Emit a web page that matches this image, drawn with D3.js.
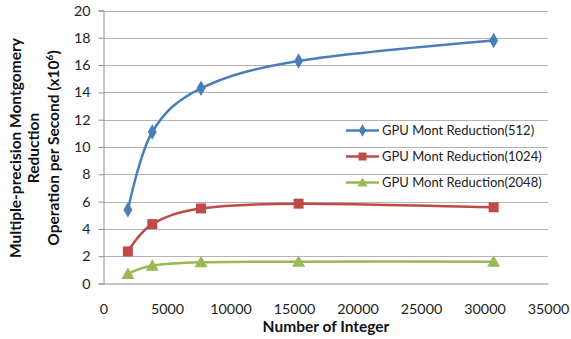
<!DOCTYPE html>
<html><head><meta charset="utf-8">
<script src="https://cdn.jsdelivr.net/npm/d3@7"></script>
<style>body{margin:0;background:#fff}svg{display:block}</style>
</head><body>
<script>
const xValues = [1920, 3840, 7680, 15360, 30720];
const series512 = [5.4, 11.1, 14.3, 16.3, 17.8];
const series1024 = [2.35, 4.35, 5.5, 5.85, 5.58];
const series2048 = [0.7, 1.3, 1.55, 1.6, 1.6];
const seriesNames = ["GPU Mont Reduction(512)", "GPU Mont Reduction(1024)", "GPU Mont Reduction(2048)"];
const xTicks = [0, 5000, 10000, 15000, 20000, 25000, 30000, 35000];
const yTicks = [0, 2, 4, 6, 8, 10, 12, 14, 16, 18, 20];

const W = 571, H = 339;
const svg = d3.select("body").append("svg").attr("width", W).attr("height", H);
const x = d3.scaleLinear().domain([0, 35000]).range([103.5, 548]);
const y = d3.scaleLinear().domain([0, 20]).range([283.5, 10.5]);
const font = "Lato, 'Open Sans', sans-serif";

// gridlines
svg.append("g").selectAll("line").data(yTicks.filter(d => d > 0)).join("line")
  .attr("x1", x(0)).attr("x2", x(35000)).attr("y1", d => Math.round(y(d)) + 0.5).attr("y2", d => Math.round(y(d)) + 0.5)
  .attr("stroke", "#b3b3b3").attr("stroke-width", 1);

// y axis
const yAxis = d3.axisLeft(y).tickValues(yTicks).tickSize(5).tickPadding(8).tickFormat(d3.format("d"));
const gy = svg.append("g").attr("transform", `translate(${x(0)},0)`).call(yAxis);
gy.select(".domain").attr("stroke", "#8c8c8c");
gy.selectAll(".tick line").attr("stroke", "#8c8c8c");
gy.selectAll("text").attr("font-family", font).attr("font-size", 14.3).attr("fill", "#222");

// x axis
const xAxis = d3.axisBottom(x).tickValues(xTicks).tickSize(0).tickPadding(20).tickFormat(d3.format("d"));
const gx = svg.append("g").attr("transform", `translate(0,${y(0)})`).call(xAxis);
gx.select(".domain").attr("stroke", "#8c8c8c");
gx.selectAll("text").attr("font-family", font).attr("font-size", 14.3).attr("fill", "#222");

// axis titles
svg.append("text").attr("x", 326).attr("y", 332).attr("text-anchor", "middle")
  .attr("font-family", font).attr("font-weight", "bold").attr("font-size", 15.5).attr("fill", "#111")
  .text("Number of Integer");
const yt = svg.append("text").attr("transform", "translate(0,148) rotate(-90)")
  .attr("text-anchor", "middle").attr("font-family", font).attr("font-weight", "bold").attr("font-size", 15.5).attr("fill", "#111");
yt.append("tspan").attr("x", 0).attr("y", 21).text("Multiple-precision Montgomery");
yt.append("tspan").attr("x", 0).attr("y", 39).text("Reduction");
const l3 = yt.append("tspan").attr("x", 0).attr("y", 59);
l3.append("tspan").text("Operation per Second (x10");
l3.append("tspan").attr("dy", -6).attr("font-size", 10).text("6");
l3.append("tspan").attr("dy", 6).text(")");

const colors = ["#4a7ebb", "#be4b48", "#98b954"];
const allSeries = [series512, series1024, series2048];
const line = d3.line().x((d, i) => x(xValues[i])).y(d => y(d)).curve(d3.curveCatmullRom.alpha(0));

function marker(g, k, cx, cy) {
  if (k === 0) {
    g.append("path").attr("d", d3.symbol(d3.symbolDiamond, 70)()).attr("transform", `translate(${cx},${cy})`).attr("fill", colors[k]);
  } else if (k === 1) {
    g.append("rect").attr("x", cx - 5).attr("y", cy - 5).attr("width", 10).attr("height", 10).attr("fill", colors[k]);
  } else {
    g.append("path").attr("d", `M${cx},${cy - 6.5}L${cx + 6.5},${cy + 5}L${cx - 6.5},${cy + 5}Z`).attr("fill", colors[k]);
  }
}

allSeries.forEach((s, k) => {
  const g = svg.append("g");
  g.append("path").attr("d", line(s)).attr("fill", "none").attr("stroke", colors[k]).attr("stroke-width", 2.5);
  s.forEach((v, i) => marker(g, k, x(xValues[i]), y(v)));
});

// legend
const legY = [130.5, 156.5, 182.5];
seriesNames.forEach((n, k) => {
  const g = svg.append("g");
  g.append("line").attr("x1", 346).attr("x2", 379).attr("y1", legY[k]).attr("y2", legY[k]).attr("stroke", colors[k]).attr("stroke-width", 2.5);
  if (k === 0) g.append("path").attr("d", d3.symbol(d3.symbolDiamond, 45)()).attr("transform", `translate(362.5,${legY[k]})`).attr("fill", colors[k]);
  else if (k === 1) g.append("rect").attr("x", 358.5).attr("y", legY[k] - 4).attr("width", 8).attr("height", 8).attr("fill", colors[k]);
  else g.append("path").attr("d", `M362.5,${legY[k] - 5}L367.5,${legY[k] + 4}L357.5,${legY[k] + 4}Z`).attr("fill", colors[k]);
  g.append("text").attr("x", 382).attr("y", legY[k] + 4.5).attr("font-family", font).attr("font-size", 13).attr("fill", "#222").text(n);
});
</script>
</body></html>
